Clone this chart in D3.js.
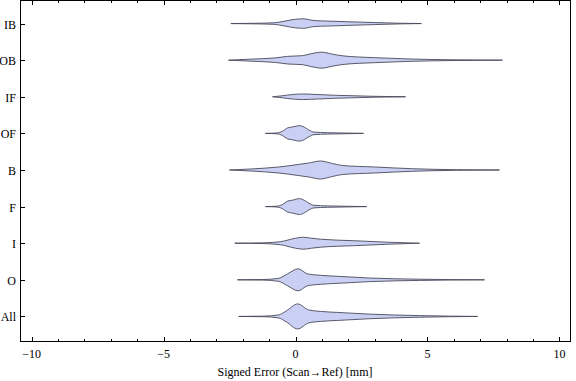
<!DOCTYPE html>
<html><head><meta charset="utf-8">
<script src="https://cdn.jsdelivr.net/npm/d3@7"></script>
<style>body{margin:0;background:#fff}svg{display:block}</style>
</head><body><svg id="c" width="576" height="381"></svg>
<script>
const categories = ["All","O","I","F","B","OF","IF","OB","IB"];
const xTicksMajor = [-10,-5,0,5,10];
const xTicksMinor = d3.range(-10, 11, 1);
// violin profiles: error value (mm) and estimated density (1/mm)
const xAll = [-2.15,-1.2,-0.64,-0.35,0.08,0.5,0.95,1.6,2.8,4.7,6.9];
const dAll = [0,0.012,0.06,0.22,0.5,0.26,0.2,0.16,0.092,0.032,0];
const xO = [-2.2,-1.2,-0.64,-0.3,0.1,0.45,0.95,1.6,2.8,4.7,7.16];
const dO = [0,0.012,0.06,0.24,0.44,0.24,0.18,0.14,0.072,0.024,0];
const xI = [-2.3,-1.2,-0.57,0,0.3,0.6,0.95,2.2,3.5,4.7];
const dI = [0,0.016,0.06,0.2,0.24,0.2,0.16,0.1,0.04,0];
const xF = [-1.14,-0.7,-0.5,-0.3,-0.1,0.15,0.35,0.5,0.7,1.2,2.0,2.7];
const dF = [0,0.016,0.08,0.22,0.26,0.32,0.24,0.14,0.052,0.028,0.012,0];
const xB = [-2.5,-1.7,-0.64,0.1,0.5,0.95,1.4,1.78,3.0,4.4,6.1,7.73];
const dB = [0,0.04,0.12,0.22,0.28,0.36,0.26,0.18,0.12,0.052,0.012,0];
const xOF = [-1.14,-0.7,-0.5,-0.3,-0.1,0.15,0.35,0.5,0.7,1.2,2.0,2.58];
const dOF = [0,0.016,0.08,0.22,0.26,0.31,0.24,0.14,0.052,0.028,0.012,0];
const xIF = [-0.87,-0.5,-0.1,0.3,0.6,1.5,2.9,4.17];
const dIF = [0,0.04,0.092,0.112,0.1,0.06,0.02,0];
const xOB = [-2.54,-1.7,-0.76,-0.3,0.27,0.6,1.0,1.4,1.8,3.0,4.3,6.2,7.84];
const dOB = [0,0.04,0.092,0.152,0.18,0.26,0.32,0.24,0.172,0.1,0.048,0.012,0];
const xIB = [-2.45,-1.5,-0.8,-0.4,0,0.3,0.7,1.2,2.0,3.0,4.0,4.77];
const dIB = [0,0.012,0.032,0.1,0.172,0.19,0.12,0.1,0.072,0.04,0.012,0];

const profiles = {All:[xAll,dAll],O:[xO,dO],I:[xI,dI],F:[xF,dF],B:[xB,dB],OF:[xOF,dOF],IF:[xIF,dIF],OB:[xOB,dOB],IB:[xIB,dIB]};

const svg = d3.select("#c");
const L = 20.5, R = 570.5, T = 0.5, B = 341.5;
const x = d3.scaleLinear().domain([-10.42, 10.42]).range([L, R]);
const y = d3.scaleLinear().domain([0.315, 9.63]).range([B, T]);
const w = d3.scaleLinear().domain([0, 0.5]).range([0, 12.5]);

const fontFam = "'Liberation Serif','Times New Roman',serif";

// violins
categories.forEach((c, i) => {
  const [xs, ds] = profiles[c];
  const pts = xs.map((v, j) => ({v, d: ds[j]}));
  const cy = y(i + 1);
  const area = d3.area().curve(d3.curveMonotoneX)
    .x(p => x(p.v)).y0(p => cy - w(p.d)).y1(p => cy + w(p.d));
  svg.append("path").attr("d", area(pts))
    .attr("fill", "#cad0f3").attr("stroke", "#4a4a5a").attr("stroke-width", 0.9)
    .attr("stroke-linejoin", "round");
});

// frame
svg.append("rect").attr("x", L).attr("y", T).attr("width", R - L).attr("height", B - T)
  .attr("fill", "none").attr("stroke", "#000").attr("stroke-width", 1);

// x ticks (bottom and top, inward)
xTicksMinor.forEach(t => {
  const major = xTicksMajor.includes(t);
  const len = major ? 4.5 : 2.5;
  const px = Math.round(x(t)) + 0.5;
  svg.append("line").attr("x1", px).attr("x2", px).attr("y1", B).attr("y2", B - len).attr("stroke", "#000");
  svg.append("line").attr("x1", px).attr("x2", px).attr("y1", T).attr("y2", T + len).attr("stroke", "#000");
});
xTicksMajor.forEach(t => {
  svg.append("text").attr("x", x(t)).attr("y", 358).attr("text-anchor", "middle")
    .attr("font-family", fontFam).attr("font-size", 12).attr("fill", "#000")
    .text(t < 0 ? "\u2212" + Math.abs(t) : String(t));
});

// y ticks and labels
categories.forEach((c, i) => {
  const py = Math.round(y(i + 1)) + 0.5;
  svg.append("line").attr("x1", L).attr("x2", L + 4.5).attr("y1", py).attr("y2", py).attr("stroke", "#000");
  svg.append("text").attr("x", 16).attr("y", py).attr("dy", "0.35em").attr("text-anchor", "end")
    .attr("font-family", fontFam).attr("font-size", 12).attr("fill", "#000").text(c);
});

// axis label
svg.append("text").attr("x", 295).attr("y", 376).attr("text-anchor", "middle")
  .attr("font-family", fontFam).attr("font-size", 12).attr("fill", "#000")
  .text("Signed Error (Scan\u2192Ref) [mm]");
</script></body></html>
